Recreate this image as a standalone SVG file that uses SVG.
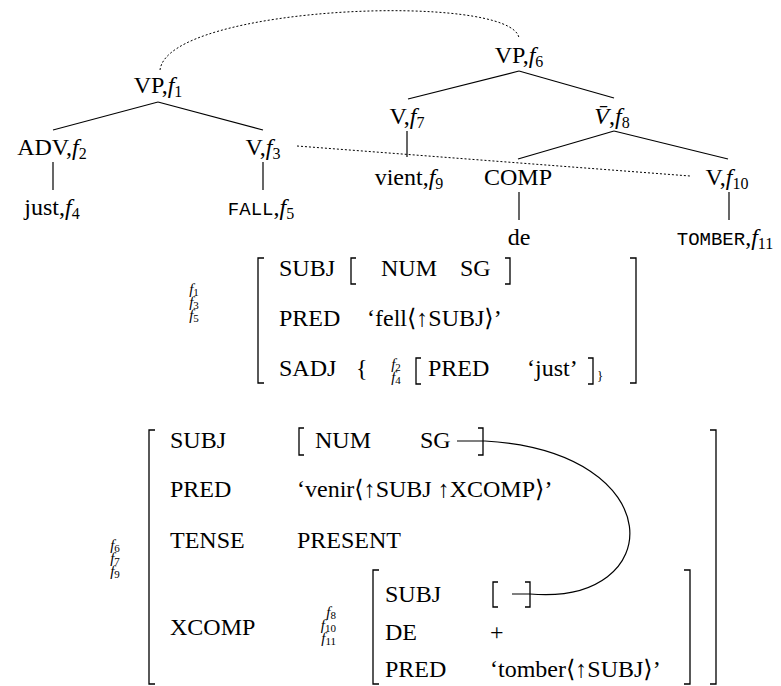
<svg xmlns="http://www.w3.org/2000/svg" width="781" height="686" viewBox="0 0 781 686">
<style>
text{font-family:"Liberation Serif","DejaVu Serif",serif;font-size:24px;fill:#000}
.tt{font-family:"Liberation Mono","DejaVu Sans Mono",monospace;font-size:19px}
.it{font-style:italic}
.sub{font-size:16px}
.sm{font-size:15px;font-style:italic}
.smsub{font-size:11px;font-style:normal}
.m{text-anchor:middle}
.e{text-anchor:end}
line,path{stroke:#000;stroke-width:1.2;fill:none}
.dot{stroke-dasharray:2,2;stroke-width:1}
.br{stroke-width:1.3}
</style>
<rect width="781" height="686" fill="#fff"/>
<g id="connectors">
<line x1="158" y1="102" x2="53" y2="130"/>
<line x1="158" y1="102" x2="263" y2="130"/>
<line x1="53" y1="162" x2="53" y2="190"/>
<line x1="263" y1="162" x2="263" y2="190"/>
<line x1="519" y1="71" x2="408" y2="99"/>
<line x1="519" y1="71" x2="614" y2="98"/>
<line x1="407" y1="131" x2="407" y2="157"/>
<line x1="614" y1="131" x2="518" y2="159"/>
<line x1="614" y1="131" x2="728" y2="159"/>
<line x1="519" y1="192" x2="519" y2="220"/>
<line x1="729" y1="192" x2="729" y2="220"/>
<path class="dot" d="M160 70 C168 5 512 -8 519 38"/>
<line class="dot" x1="297" y1="146" x2="690" y2="176"/>
<path d="M457 441 H485 C672 452 668 606 530 594 H512"/>
</g>
<g id="vp1"><text class="m" x="158" y="93">VP,<tspan class="it">f</tspan><tspan class="sub" dy="4">1</tspan></text></g>
<g id="adv2"><text class="m" x="52" y="155">ADV,<tspan class="it">f</tspan><tspan class="sub" dy="4">2</tspan></text></g>
<g id="v3"><text class="m" x="263" y="155">V,<tspan class="it">f</tspan><tspan class="sub" dy="4">3</tspan></text></g>
<g id="just4"><text class="m" x="52" y="215">just,<tspan class="it">f</tspan><tspan class="sub" dy="4">4</tspan></text></g>
<g id="fall5"><text class="m" x="261" y="215"><tspan class="tt">FALL</tspan>,<tspan class="it">f</tspan><tspan class="sub" dy="4">5</tspan></text></g>
<g id="vp6"><text class="m" x="519" y="63">VP,<tspan class="it">f</tspan><tspan class="sub" dy="4">6</tspan></text></g>
<g id="v7"><text class="m" x="407" y="124">V,<tspan class="it">f</tspan><tspan class="sub" dy="4">7</tspan></text></g>
<g id="vbar8"><text class="m" x="612" y="124"><tspan class="it">V̄</tspan>,<tspan class="it">f</tspan><tspan class="sub" dy="4">8</tspan></text></g>
<g id="vient9"><text class="m" x="409" y="185">vient,<tspan class="it">f</tspan><tspan class="sub" dy="4">9</tspan></text></g>
<g id="comp"><text class="m" x="518" y="185">COMP</text></g>
<g id="v10"><text class="m" x="727" y="185">V,<tspan class="it">f</tspan><tspan class="sub" dy="4">10</tspan></text></g>
<g id="de"><text class="m" x="519" y="245">de</text></g>
<g id="tomber11"><text class="m" x="725" y="245"><tspan class="tt">TOMBER</tspan>,<tspan class="it">f</tspan><tspan class="sub" dy="4">11</tspan></text></g>

<g id="avm1">
<path class="br" d="M264 258 H258 V383 H264"/>
<path class="br" d="M630 258 H636 V383 H630"/>
<text class="sm m"><tspan x="194" y="294">f</tspan><tspan class="smsub" dy="2">1</tspan><tspan x="194" y="307">f</tspan><tspan class="smsub" dy="2">3</tspan><tspan x="194" y="320">f</tspan><tspan class="smsub" dy="2">5</tspan></text>
<text x="279" y="276">SUBJ</text>
<path class="br" d="M356 258 H351 V284 H356"/>
<text x="381" y="276">NUM</text>
<text x="460" y="276">SG</text>
<path class="br" d="M505 258 H510 V284 H505"/>
<text x="279" y="326">PRED</text>
<text x="367" y="326">‘fell⟨↑SUBJ⟩’</text>
<text x="279" y="376">SADJ</text>
<text x="356" y="376">{</text>
<text class="sm m"><tspan x="396" y="369">f</tspan><tspan class="smsub" dy="2">2</tspan><tspan x="396" y="382">f</tspan><tspan class="smsub" dy="2">4</tspan></text>
<path class="br" d="M421 358 H416 V384 H421"/>
<text x="428" y="376">PRED</text>
<text x="527" y="376">‘just’</text>
<path class="br" d="M588 358 H593 V384 H588"/>
<text x="597" y="380" style="font-size:13px">}</text>
</g>

<g id="avm2">
<path class="br" d="M155 430 H149 V684 H155"/>
<path class="br" d="M710 430 H716 V684 H710"/>
<text class="sm m"><tspan x="115" y="550">f</tspan><tspan class="smsub" dy="2">6</tspan><tspan x="115" y="563">f</tspan><tspan class="smsub" dy="2">7</tspan><tspan x="115" y="576">f</tspan><tspan class="smsub" dy="2">9</tspan></text>
<text x="170" y="448">SUBJ</text>
<path class="br" d="M304 428 H299 V455 H304"/>
<text x="315" y="448">NUM</text>
<text x="420" y="448">SG</text>
<path class="br" d="M478 428 H483 V455 H478"/>
<text x="170" y="497">PRED</text>
<text x="297" y="497">‘venir⟨↑SUBJ ↑XCOMP⟩’</text>
<text x="170" y="548">TENSE</text>
<text x="297" y="548">PRESENT</text>
<text x="170" y="635">XCOMP</text>
<text class="sm e"><tspan x="336" y="617">f</tspan><tspan class="smsub" dy="2">8</tspan><tspan x="336" y="630">f</tspan><tspan class="smsub" dy="2">10</tspan><tspan x="336" y="643">f</tspan><tspan class="smsub" dy="2">11</tspan></text>
<path class="br" d="M379 570 H373 V684 H379"/>
<path class="br" d="M684 570 H690 V684 H684"/>
<text x="385" y="602">SUBJ</text>
<path class="br" d="M498 582 H493 V607 H498"/>
<path class="br" d="M525 582 H530 V607 H525"/>
<text x="385" y="640">DE</text>
<text x="490" y="640">+</text>
<text x="385" y="677">PRED</text>
<text x="490" y="677">‘tomber⟨↑SUBJ⟩’</text>
</g>
</svg>
